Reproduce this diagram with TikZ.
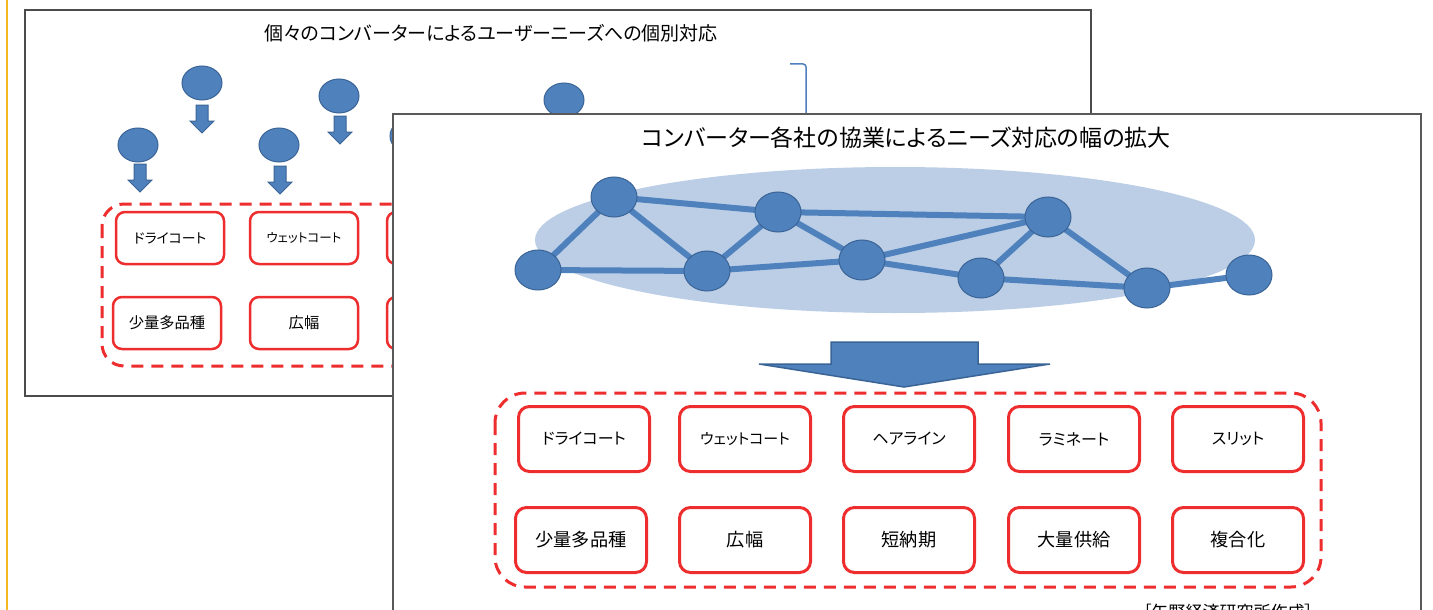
\documentclass[tikz,border=0pt]{standalone}
\usepackage{fontspec}
\setmainfont{Noto Sans CJK JP}[RawFeature=+palt]
\usetikzlibrary{shapes.geometric}
\definecolor{nodeblue}{HTML}{4F81BD}
\definecolor{nodeedge}{HTML}{3A6496}
\definecolor{boxred}{HTML}{EE2E2E}
\definecolor{cloud}{HTML}{BBCEE6}
\definecolor{rule}{HTML}{F5B820}
\pgfdeclarelayer{edges}
\pgfdeclarelayer{top}
\pgfsetlayers{main,edges,top}
\tikzset{
  panel/.style={draw=black!70, line width=1.2pt, fill=white},
  needbox/.style={draw=boxred, line width=3pt, rounded corners=11pt, fill=white,
    minimum width=131pt, minimum height=65pt, inner sep=0pt,
    font=\fontsize{16}{18}\selectfont},
  kanjibox/.style={needbox, font=\fontsize{18.2}{20}\selectfont},
  backbox/.style={needbox, line width=2.5pt, rounded corners=9pt,
    minimum width=108pt, minimum height=52pt, font=\fontsize{13.8}{15}\selectfont},
  backkanji/.style={backbox, font=\fontsize{15.3}{17}\selectfont},
  dashbox/.style={draw=boxred, line width=3pt, dash pattern=on 12pt off 8pt},
  blob/.style={ellipse, fill=nodeblue, draw=nodeedge, line width=1pt,
    minimum width=46pt, minimum height=40pt, inner sep=0pt},
  smallblob/.style={blob, minimum width=40pt, minimum height=34pt},
  link/.style={draw=nodeblue, line width=6pt},
  blockarrow/.style={fill=nodeblue, draw=nodeedge, line width=1.5pt, line join=miter},
  smarrow/.pic={
    \path[blockarrow, line width=1pt] (-6,0) -- (6,0) -- (6,16) -- (12,16) -- (0,28)
      -- (-12,16) -- (-6,16) -- cycle;
  },
}
\begin{document}
\begin{tikzpicture}[x=1pt,y=-1pt]
\clip (0,0) rectangle (1433,610);
\fill[white] (0,0) rectangle (1433,610);
% left rule
\draw[rule, line width=2.5pt] (7,0) -- (7,610);

% ---------- back panel ----------
\draw[panel] (25,10) rectangle (1091,396);
\node[font=\fontsize{19}{21}\selectfont] (backtitle) at (491,33)
  {個々のコンバーターによるユーザーニーズへの個別対応};

\node[smallblob] (b1) at (202,83) {};
\node[smallblob] (b2) at (339,96) {};
\node[smallblob] (b3) at (138,145) {};
\node[smallblob] (b4) at (279,145) {};
\node[smallblob] (b5) at (410,136) {};
\node[smallblob] (b6) at (564,100) {};
\pic at (202,105) {smarrow};
\pic at (340,116) {smarrow};
\pic at (140,164) {smarrow};
\pic at (280,166) {smarrow};

\draw[dashbox, rounded corners=22pt] (102,204) rectangle (760,366);
\node[backbox] (bk1) at (170,238) {ドライコート};
\node[backbox, font=\fontsize{12.5}{14}\selectfont] (bk2) at (304,238) {ウェットコート};
\node[backbox] (bk3) at (441,238) {};
\node[backkanji] (bk4) at (167,323) {少量多品種};
\node[backkanji] (bk5) at (304,323) {広幅};
\node[backbox] (bk6) at (441,323) {};

% hidden connector fragment
\coordinate (brA) at (790,64);
\coordinate (brB) at (806,114);
\draw[nodeblue, line width=1.5pt, rounded corners=3pt] (brA) -- (brB |- brA) -- (brB);

% ---------- front panel ----------
\draw[panel, draw=black!65, line width=1.8pt] (393,114) rectangle (1421,640);
\node[font=\fontsize{23}{26}\selectfont] (fronttitle) at (906,138)
  {コンバーター各社の協業によるニーズ対応の幅の拡大};

\fill[cloud] (895,240) ellipse [x radius=360, y radius=73];

\begin{pgfonlayer}{top}
\node[blob] (n1) at (538,270) {};
\node[blob] (n2) at (614,197) {};
\node[blob] (n3) at (707,271) {};
\node[blob] (n4) at (778,212) {};
\node[blob] (n5) at (862,260) {};
\node[blob] (n6) at (1048,217) {};
\node[blob] (n7) at (981,278) {};
\node[blob] (n8) at (1147,288) {};
\node[blob] (n9) at (1249,275) {};
\end{pgfonlayer}
\begin{pgfonlayer}{edges}
\foreach \a/\b in {n1/n2, n1/n3, n2/n3, n2/n4, n3/n4, n3/n5, n4/n5, n4/n6,
                   n5/n6, n5/n7, n7/n6, n7/n8, n6/n8, n8/n9}
  \draw[link] (\a.center) -- (\b.center);
\end{pgfonlayer}

% big block arrow
\path[blockarrow] (831,342) -- (978,342) -- (978,364) -- (1050,364) -- (904,387)
  -- (759,364) -- (831,364) -- cycle;

\draw[dashbox, rounded corners=30pt] (495,393) rectangle (1321,587);
\node[needbox] (f1) at (584,439) {ドライコート};
\node[needbox, font=\fontsize{15}{17}\selectfont] (f2) at (745,439) {ウェットコート};
\node[needbox] (f3) at (909,439) {ヘアライン};
\node[needbox] (f4) at (1074,439) {ラミネート};
\node[needbox] (f5) at (1238,439) {スリット};
\node[kanjibox] (f6) at (581,540) {少量多品種};
\node[kanjibox] (f7) at (745,540) {広幅};
\node[kanjibox] (f8) at (909,540) {短納期};
\node[kanjibox] (f9) at (1074,540) {大量供給};
\node[kanjibox] (f10) at (1238,540) {複合化};

\node[font=\fontsize{17}{19}\selectfont, anchor=base] (source) at (1228,618)
  {［矢野経済研究所作成］};
\end{tikzpicture}
\end{document}
